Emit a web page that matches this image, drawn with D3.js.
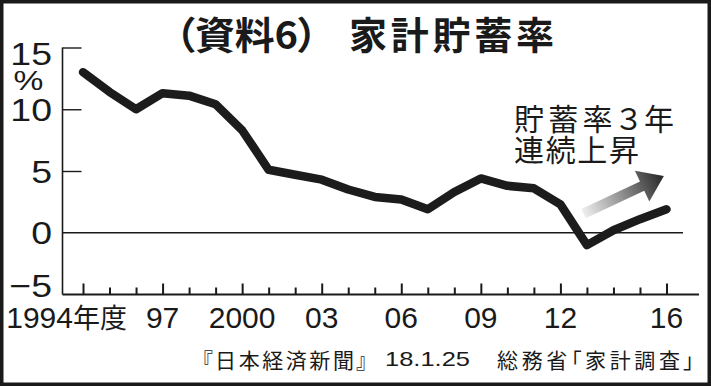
<!DOCTYPE html>
<html lang="ja"><head><meta charset="utf-8">
<script src="https://cdn.jsdelivr.net/npm/d3@7"></script>
<style>
body { margin: 0; background: #fff; }
svg { display: block; }
.num { font-family: "Liberation Sans", Arial, sans-serif; fill: #1a1a1a; }
.jp { font-family: "Noto Sans CJK JP", sans-serif; fill: #1a1a1a; font-feature-settings: "palt"; }
</style>
</head><body>
<div id="chart"></div>
<script>
// household saving rate, % (fiscal year)
const years = [1994, 1995, 1996, 1997, 1998, 1999, 2000, 2001, 2002, 2003, 2004, 2005,
               2006, 2007, 2008, 2009, 2010, 2011, 2012, 2013, 2014, 2015, 2016];
const savingRate = [13.0, 11.4, 10.0, 11.3, 11.1, 10.4, 8.3, 5.1, 4.7, 4.3, 3.5, 2.9,
                    2.7, 1.9, 3.3, 4.4, 3.8, 3.6, 2.3, -1.0, 0.2, 1.1, 1.9];

const yTicks = [15, 10, 5, 0, -5];
const yTickLabels = ["15", "10", "5", "0", "−5"];
const xMajor = [1994, 1997, 2000, 2003, 2006, 2009, 2012, 2016];
const xTickLabels = ["1994", "97", "2000", "03", "06", "09", "12", "16"];

const titleParts = ["（資料6）", "家計貯蓄率"];
const noteLines = ["貯蓄率３年", "連続上昇"];
const sourceParts = ["『日本経済新聞』", "18.1.25", "総務省「家計調査」"];

const W = 711, H = 386;
const data = years.map((yr, i) => ({ year: yr, value: savingRate[i] }));

const svg = d3.select("#chart").append("svg")
    .attr("width", W)
    .attr("height", H);

svg.append("rect")
    .attr("x", 1.75).attr("y", 1.75)
    .attr("width", W - 3.5).attr("height", H - 3.5)
    .attr("fill", "#fff")
    .attr("stroke", "#1a1a1a")
    .attr("stroke-width", 3.5);

const x = d3.scaleLinear().domain([1994, 2016]).range([83, 666.5]);
const y = d3.scaleLinear().domain([-5, 15]).range([294.5, 47.5]);
const axisX0 = 62.5, axisX1 = 699;

// title
const title = svg.append("g").attr("class", "jp")
    .attr("font-size", 38).attr("font-weight", "bold");
title.append("text").attr("x", 175).attr("y", 49)
    .attr("textLength", 143).attr("lengthAdjust", "spacingAndGlyphs")
    .text(titleParts[0]);
title.append("text").attr("x", 349).attr("y", 49)
    .attr("textLength", 205).attr("lengthAdjust", "spacing")
    .text(titleParts[1]);

// y axis: vertical line, short ticks, zero line
svg.append("line")
    .attr("x1", axisX0).attr("x2", axisX0)
    .attr("y1", y(15)).attr("y2", y(-5))
    .attr("stroke", "#1a1a1a").attr("stroke-width", 1.6);

const gy = svg.append("g")
    .attr("transform", `translate(${axisX0},0)`)
    .call(d3.axisLeft(y).tickValues([15, 10, 5]).tickSize(-19).tickFormat(""));
gy.select(".domain").remove();
gy.selectAll(".tick line").attr("stroke", "#1a1a1a").attr("stroke-width", 1.4);

svg.append("line")
    .attr("x1", axisX0).attr("x2", 683)
    .attr("y1", y(0)).attr("y2", y(0))
    .attr("stroke", "#1a1a1a").attr("stroke-width", 1.3);

// y labels (wide digits)
const labTop = y(15) + 17.5, labBottom = y(-5) + 2.5;
svg.append("g").attr("class", "num")
    .selectAll("text")
    .data(yTicks)
    .join("text")
    .attr("transform", d => {
        const by = Math.max(labTop, Math.min(labBottom, y(d) + 11.5));
        return `translate(52,${by}) scale(1.17,1)`;
    })
    .attr("text-anchor", "end")
    .attr("font-size", 32)
    .text((d, i) => yTickLabels[i]);

svg.append("text").attr("class", "num")
    .attr("transform", "translate(28.5,90) scale(1.2,1)")
    .attr("text-anchor", "middle")
    .attr("font-size", 28)
    .text("%");

// x axis
svg.append("line")
    .attr("x1", axisX0).attr("x2", axisX1)
    .attr("y1", y(-5)).attr("y2", y(-5))
    .attr("stroke", "#1a1a1a").attr("stroke-width", 2);

const gxMinor = svg.append("g")
    .attr("transform", `translate(0,${y(-5)})`)
    .call(d3.axisBottom(x).tickValues(years.filter(v => !xMajor.includes(v))).tickSize(-7).tickFormat(""));
const gxMajor = svg.append("g")
    .attr("transform", `translate(0,${y(-5)})`)
    .call(d3.axisBottom(x).tickValues(xMajor).tickSize(-11).tickFormat(""));
[gxMinor, gxMajor].forEach(g => {
    g.select(".domain").remove();
    g.selectAll(".tick line").attr("stroke", "#1a1a1a").attr("stroke-width", 2);
});

const xl = svg.append("g").attr("class", "num").attr("font-size", 30);
xl.selectAll("text")
    .data(xMajor)
    .join("text")
    .attr("x", (d, i) => i === 0 ? x(d) + 44 : x(d))
    .attr("y", 328)
    .attr("text-anchor", (d, i) => i === 0 ? "end" : "middle")
    .each(function (d, i) {
        const t = d3.select(this);
        t.append("tspan").text(xTickLabels[i]);
        if (i === 0) t.append("tspan").attr("class", "jp").attr("font-size", 27).text("年度");
    });

// arrow with gradient
const tail = [x(2012.87), y(1.55)], tip = [x(2015.9), y(4.6)];
const dx = tip[0] - tail[0], dy = tip[1] - tail[1], len = Math.hypot(dx, dy);
const u = [dx / len, dy / len], n = [-u[1], u[0]];
const base = [tip[0] - u[0] * 24, tip[1] - u[1] * 24];
const pt = (p, k) => [p[0] + n[0] * k, p[1] + n[1] * k];
const grad = svg.append("defs").append("linearGradient")
    .attr("id", "arrowGrad")
    .attr("gradientUnits", "userSpaceOnUse")
    .attr("x1", tail[0]).attr("y1", tail[1])
    .attr("x2", tip[0]).attr("y2", tip[1]);
grad.append("stop").attr("offset", 0).attr("stop-color", "#efefef");
grad.append("stop").attr("offset", 0.6).attr("stop-color", "#777");
grad.append("stop").attr("offset", 1).attr("stop-color", "#262626");
svg.append("polygon")
    .attr("points", [pt(tail, 5), pt(base, 5), pt(base, 17), tip, pt(base, -17), pt(base, -5), pt(tail, -5)]
        .map(p => p.join(",")).join(" "))
    .attr("fill", "url(#arrowGrad)");

// series line
svg.append("path")
    .datum(data)
    .attr("fill", "none")
    .attr("stroke", "#1c1c1c")
    .attr("stroke-width", 8.5)
    .attr("stroke-linejoin", "round")
    .attr("stroke-linecap", "round")
    .attr("d", d3.line().x(d => x(d.year)).y(d => y(d.value)));

// annotation
const note = svg.append("g").attr("class", "jp").attr("font-size", 30);
note.append("text").attr("x", 514).attr("y", 130)
    .attr("textLength", 160).attr("lengthAdjust", "spacing").text(noteLines[0]);
note.append("text").attr("x", 514).attr("y", 161)
    .attr("textLength", 125).attr("lengthAdjust", "spacing").text(noteLines[1]);

// source
const src = svg.append("g").attr("font-size", 21);
src.append("text").attr("class", "jp").attr("x", 202).attr("y", 368)
    .attr("textLength", 165).attr("lengthAdjust", "spacing").text(sourceParts[0]);
src.append("text").attr("class", "num").attr("x", 385).attr("y", 366)
    .attr("textLength", 85).attr("lengthAdjust", "spacingAndGlyphs").text(sourceParts[1]);
src.append("text").attr("class", "jp").attr("x", 497).attr("y", 368)
    .attr("textLength", 197).attr("lengthAdjust", "spacing").text(sourceParts[2]);
</script>
</body></html>
